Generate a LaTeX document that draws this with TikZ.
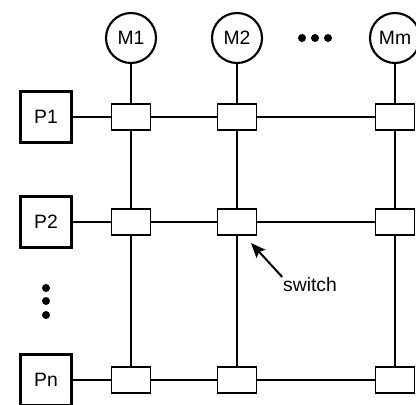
\documentclass[tikz,border=0pt]{standalone}
\usepackage{fontspec}
\setmainfont{Liberation Sans}
\usetikzlibrary{arrows.meta}

\begin{document}
\begin{tikzpicture}[x=0.75pt, y=-0.75pt,
  mem/.style={circle, draw, line width=1.6pt, minimum size=37.5pt, inner sep=0pt,
    font=\fontsize{14.5}{17}\selectfont},
  proc/.style={rectangle, draw, line width=2.2pt, minimum size=38.5pt, inner sep=0pt,
    font=\fontsize{14.5}{17}\selectfont},
  sw/.style={rectangle, draw, line width=1.1pt, minimum width=29pt,
    minimum height=19.5pt, inner sep=0pt},
  wire/.style={line width=1.5pt},
  bigdot/.style={circle, fill, inner sep=0pt, minimum size=6pt},
  lab/.style={font=\fontsize{14.5}{17}\selectfont, inner sep=0.5pt}]
\clip (0,0) rectangle (416,404);
% ----- memories -----
\foreach \n/\x in {1/131, 2/237, m/395}
  \node[mem] (M\n) at (\x,38) {M\n};
% ----- processors -----
\foreach \n/\y in {1/117, 2/222, n/380}
  \node[proc] (P\n) at (46,\y) {P\n};
% ----- switches -----
\foreach \row/\y in {1/117, 2/222, n/380}
  \foreach \col/\x in {1/131, 2/237, m/395}
    \node[sw] (S\row\col) at (\x,\y) {};
% ----- wires -----
\foreach \row in {1,2,n}
  \draw[wire] (P\row) -- (S\row1) -- (S\row2) -- (S\row m);
\foreach \col in {1,2,m}
  \draw[wire] (M\col) -- (S1\col) -- (S2\col) -- (Sn\col);
% ----- ellipses -----
\foreach \i/\x in {1/302, 2/315, 3/328}
  \node[bigdot] (hd\i) at (\x,38) {};
\foreach \i/\y in {1/288, 2/301, 3/315}
  \node[bigdot] (vd\i) at (46,\y) {};
% ----- label -----
\node[lab] (swlab) at (310,285) {switch};
\coordinate (swtip) at (251,243);
\draw[wire, -{Stealth[length=11pt, width=9pt, inset=2pt]}] (swlab.north west) -- (swtip);
\end{tikzpicture}
\end{document}
